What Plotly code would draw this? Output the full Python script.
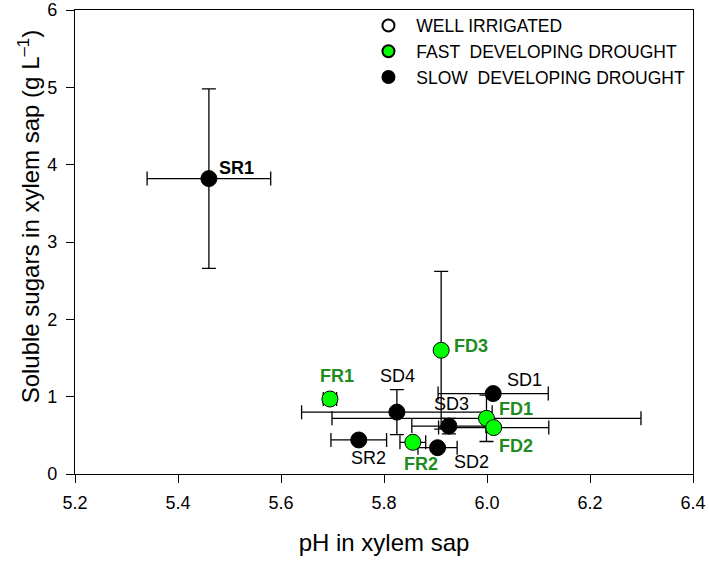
import plotly.graph_objects as go

# ---- data ----
well_labels = []
well_x = []
well_y = []

fast_labels = ["FR1", "FR2", "FD1", "FD2", "FD3"]
fast_x = [5.695, 5.856, 5.999, 6.013, 5.911]
fast_y = [0.97, 0.41, 0.72, 0.60, 1.60]
fast_xerr = [0.013, 0.025, 0.30, 0.107, 0.0]
fast_yerr = [0.02, 0.04, 0.30, 0.04, 1.02]

slow_labels = ["SR1", "SR2", "SD1", "SD2", "SD3", "SD4"]
slow_x = [5.46, 5.751, 6.012, 5.904, 5.926, 5.825]
slow_y = [3.82, 0.44, 1.04, 0.34, 0.62, 0.80]
slow_xerr = [0.12, 0.054, 0.107, 0.038, 0.072, 0.185]
slow_yerr = [1.16, 0.03, 0.05, 0.03, 0.10, 0.29]

x_ticks = [5.2, 5.4, 5.6, 5.8, 6.0, 6.2, 6.4]
y_ticks = [0, 1, 2, 3, 4, 5, 6]

x_title = "pH in xylem sap"
y_title = "Soluble sugars in xylem sap (g L<sup>–1</sup>)"
legend_names = ["WELL IRRIGATED", "FAST  DEVELOPING DROUGHT", "SLOW  DEVELOPING DROUGHT"]

# label placement (pixel offsets) and style
fast_label_shift = [(7, 23), (8, -22), (30, 9), (22, -18), (30, 4)]
slow_label_shift = [(28, 11), (10, -18), (31, 14), (34, -14), (3, 22), (1, 36)]
slow_label_bold = [True, False, False, False, False, False]

FONT = "Liberation Sans, Arial, sans-serif"
GREEN = "#00FF00"
LABEL_GREEN = "#1E8C1E"

fig = go.Figure()

err_style = dict(type="data", color="black", thickness=1.3, width=7)

fig.add_trace(go.Scatter(
    x=well_x if well_x else [None], y=well_y if well_y else [None],
    mode="markers", name=" " + legend_names[0], legendrank=1,
    marker=dict(size=16, color="white", line=dict(color="black", width=1.3)),
))

fig.add_trace(go.Scatter(
    x=slow_x, y=slow_y, mode="markers", name=" " + legend_names[2], legendrank=3,
    marker=dict(size=16, color="black", line=dict(color="black", width=1)),
    error_x=dict(array=slow_xerr, **err_style),
    error_y=dict(array=slow_yerr, **err_style),
))

fig.add_trace(go.Scatter(
    x=fast_x, y=fast_y, mode="markers", name=" " + legend_names[1], legendrank=2,
    marker=dict(size=16, color=GREEN, line=dict(color="black", width=1)),
    error_x=dict(array=fast_xerr, **err_style),
    error_y=dict(array=fast_yerr, **err_style),
))

annotations = []
for lab, x, y, (dx, dy) in zip(fast_labels, fast_x, fast_y, fast_label_shift):
    annotations.append(dict(x=x, y=y, text=f"<b>{lab}</b>", showarrow=False,
                            xshift=dx, yshift=dy,
                            font=dict(family=FONT, size=18, color=LABEL_GREEN)))
for lab, x, y, (dx, dy), b in zip(slow_labels, slow_x, slow_y, slow_label_shift, slow_label_bold):
    annotations.append(dict(x=x, y=y, text=f"<b>{lab}</b>" if b else lab, showarrow=False,
                            xshift=dx, yshift=dy,
                            font=dict(family=FONT, size=18, color="black")))

# y-axis title (rotated text, slightly above centre as in the original)
annotations.append(dict(xref="paper", yref="paper", x=-0.073, y=0.555,
                        xanchor="center", yanchor="middle", textangle=-90,
                        text=y_title, showarrow=False,
                        font=dict(family=FONT, size=24, color="black")))

axis_common = dict(
    showgrid=False, zeroline=False, showline=True, linecolor="black", linewidth=1.3,
    mirror=True, ticks="outside", ticklen=8, tickwidth=1.3, tickcolor="black",
    tickfont=dict(family=FONT, size=18, color="black"), automargin=False,
)

fig.update_layout(
    width=709, height=565,
    margin=dict(l=75, r=16, t=10, b=91, autoexpand=False),
    paper_bgcolor="white", plot_bgcolor="white",
    font=dict(family=FONT, color="black"),
    annotations=annotations,
    xaxis=dict(range=[5.2, 6.4], tickvals=x_ticks, ticktext=[f"{v:.1f}" for v in x_ticks],
               title=dict(text=x_title, font=dict(family=FONT, size=24), standoff=22),
               ticklabelstandoff=4,
               **axis_common),
    yaxis=dict(range=[0, 6], tickvals=y_ticks, ticktext=[str(v) for v in y_ticks],
               ticklabelstandoff=5,
               **axis_common),
    showlegend=True,
    legend=dict(x=0.47, y=1.005, xanchor="left", yanchor="top",
                bgcolor="rgba(0,0,0,0)", borderwidth=0, itemwidth=36,
                font=dict(family=FONT, size=17.5, color="black"),
                itemsizing="constant"),
)

fig.write_html("out.html",
               config={"displayModeBar": False},
               post_script="document.body.style.margin='0';document.body.style.overflow='hidden';")
